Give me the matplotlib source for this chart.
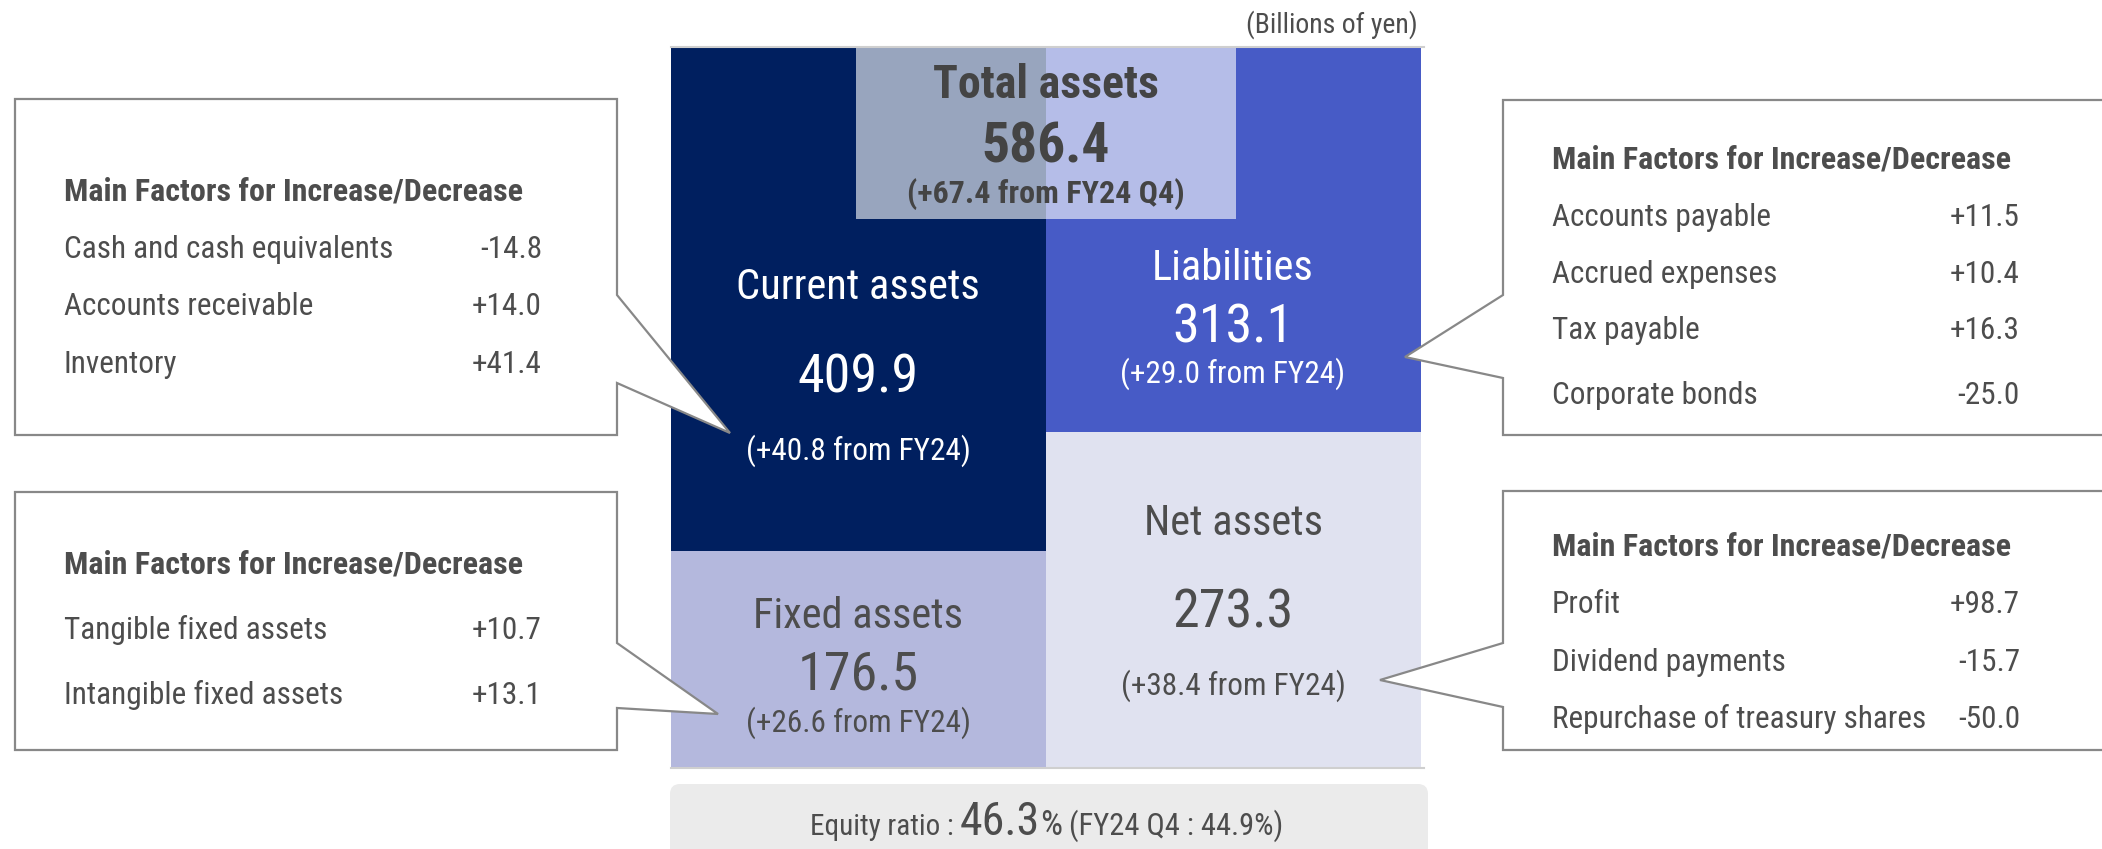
import matplotlib
matplotlib.use('Agg')
import matplotlib.pyplot as plt
from matplotlib import font_manager
from matplotlib.patches import Polygon, Rectangle, FancyBboxPatch

W, H = 2102, 849

installed = {f.name for f in font_manager.fontManager.ttflist}
FONT = next((f for f in ['Liberation Sans Narrow', 'Roboto Condensed', 'Liberation Sans']
             if f in installed), 'DejaVu Sans')
plt.rcParams['font.family'] = FONT

# balance sheet blocks (billions of yen)
asset_labels = ['Current assets', 'Fixed assets']
asset_values = [409.9, 176.5]
asset_changes = [40.8, 26.6]
claim_labels = ['Liabilities', 'Net assets']
claim_values = [313.1, 273.3]
claim_changes = [29.0, 38.4]
total_assets = 586.4
total_change = 67.4
equity_ratio = 46.3
equity_ratio_prev = 44.9

# main factors for increase/decrease
current_items = ['Cash and cash equivalents', 'Accounts receivable', 'Inventory']
current_deltas = [-14.8, 14.0, 41.4]
fixed_items = ['Tangible fixed assets', 'Intangible fixed assets']
fixed_deltas = [10.7, 13.1]
liab_items = ['Accounts payable', 'Accrued expenses', 'Tax payable', 'Corporate bonds']
liab_deltas = [11.5, 10.4, 16.3, -25.0]
net_items = ['Profit', 'Dividend payments', 'Repurchase of treasury shares']
net_deltas = [98.7, -15.7, -50.0]

NAVY = '#001F5F'
BLUE = '#475BC6'
LAV = '#B4B8DD'
PALE = '#E0E2F0'
TXT = '#4D4D4D'
EDGE = '#888888'

fig = plt.figure(figsize=(W / 100, H / 100), dpi=100)

# stacked blocks, heights from the values
bx = fig.add_axes([671 / W, 1 - 768 / H, 750 / W, 721 / H])
bx.bar([0, 0], asset_values, bottom=[0, asset_values[0]], width=1,
       color=[NAVY, LAV], linewidth=0)
bx.bar([1, 1], claim_values, bottom=[0, claim_values[0]], width=1,
       color=[BLUE, PALE], linewidth=0)
bx.set_xlim(-0.5, 1.5)
bx.set_ylim(total_assets, 0)
bx.axis('off')

# overlay in pixel coordinates for annotations
ov = fig.add_axes([0, 0, 1, 1], zorder=3)
ov.set_xlim(0, W)
ov.set_ylim(H, 0)
ov.axis('off')
ov.patch.set_alpha(0)

ov.plot([671, 1424], [47, 47], color='#CFCFCF', lw=1.5)
ov.plot([671, 1424], [768, 768], color='#CFCFCF', lw=1.5)
ov.text(1418, 33, '(Billions of yen)', fontsize=20, color=TXT, ha='right', va='baseline')

# total assets badge
ov.add_patch(Rectangle((856, 47), 380, 172, facecolor='white', alpha=0.6, edgecolor='none'))
ov.text(1046, 98, 'Total assets', fontsize=33, fontweight='bold', color='#444444',
        ha='center', va='baseline')
ov.text(1046, 162, f'{total_assets:.1f}', fontsize=40, fontweight='bold', color='#444444',
        ha='center', va='baseline')
ov.text(1046, 203, f'({total_change:+.1f} from FY24 Q4)', fontsize=23, fontweight='bold',
        color='#444444', ha='center', va='baseline')


def block_text(x, ys, label, value, change, color):
    ov.text(x, ys[0], label, fontsize=30.5, color=color, ha='center', va='baseline')
    ov.text(x, ys[1], f'{value:.1f}', fontsize=39, color=color, ha='center', va='baseline')
    ov.text(x, ys[2], f'({change:+.1f} from FY24)', fontsize=22.5, color=color,
            ha='center', va='baseline')


block_text(858, (299, 392, 460), asset_labels[0], asset_values[0], asset_changes[0], 'white')
block_text(858, (628, 690, 732), asset_labels[1], asset_values[1], asset_changes[1], TXT)
block_text(1233, (280, 342, 383), claim_labels[0], claim_values[0], claim_changes[0], 'white')
block_text(1233, (535, 628, 695), claim_labels[1], claim_values[1], claim_changes[1], TXT)


def callout(box, joints, tip, side, head_y, rows_y, items, deltas, tx, vx):
    x0, y0, x1, y1 = box
    j0, j1 = joints
    if side == 'right':
        pts = [(x0, y0), (x1, y0), (x1, j0), tip, (x1, j1), (x1, y1), (x0, y1)]
    else:
        pts = [(x0, y0), (x1, y0), (x1, y1), (x0, y1), (x0, j1), tip, (x0, j0)]
    ov.add_patch(Polygon(pts, closed=True, facecolor='white', edgecolor=EDGE,
                         lw=1.6, joinstyle='miter'))
    ov.text(tx, head_y, 'Main Factors for Increase/Decrease', fontsize=23,
            fontweight='bold', color=TXT, ha='left', va='baseline')
    for y, name, d in zip(rows_y, items, deltas):
        ov.text(tx, y, name, fontsize=22.5, color=TXT, ha='left', va='baseline')
        ov.text(vx, y, f'{d:+.1f}', fontsize=22.5, color=TXT, ha='right', va='baseline')


callout((15, 99, 617, 435), (295, 383), (730, 433), 'right', 200,
        [258, 315, 373], current_items, current_deltas, 64, 542)
callout((15, 492, 617, 750), (643, 708), (718, 714), 'right', 574,
        [639, 704], fixed_items, fixed_deltas, 64, 542)
callout((1503, 100, 2115, 435), (295, 378), (1405, 357), 'left', 168,
        [226, 283, 339, 404], liab_items, liab_deltas, 1552, 2020)
callout((1503, 491, 2115, 750), (643, 707), (1380, 680), 'left', 556,
        [613, 671, 728], net_items, net_deltas, 1552, 2020)

# equity ratio strip
ov.add_patch(FancyBboxPatch((670, 784), 758, 90, boxstyle='round,pad=0,rounding_size=10',
                            facecolor='#EBEBEB', edgecolor='none'))
r = fig.canvas.get_renderer()
parts = [('Equity ratio :', 21, 6), (f'{equity_ratio:.1f}', 33, 0), ('%', 25, 7),
         (f'(FY24 Q4 : {equity_ratio_prev:.1f}%)', 22, 0)]
x = 0
texts = []
for s, size, gap in parts:
    t = ov.text(x, 835, s, fontsize=size, color=TXT, ha='left', va='baseline')
    x += t.get_window_extent(renderer=r).width + gap
    texts.append(t)
shift = 1047 - x / 2
for t in texts:
    t.set_x(t.get_position()[0] + shift)

fig.savefig('out.png', dpi=100)
